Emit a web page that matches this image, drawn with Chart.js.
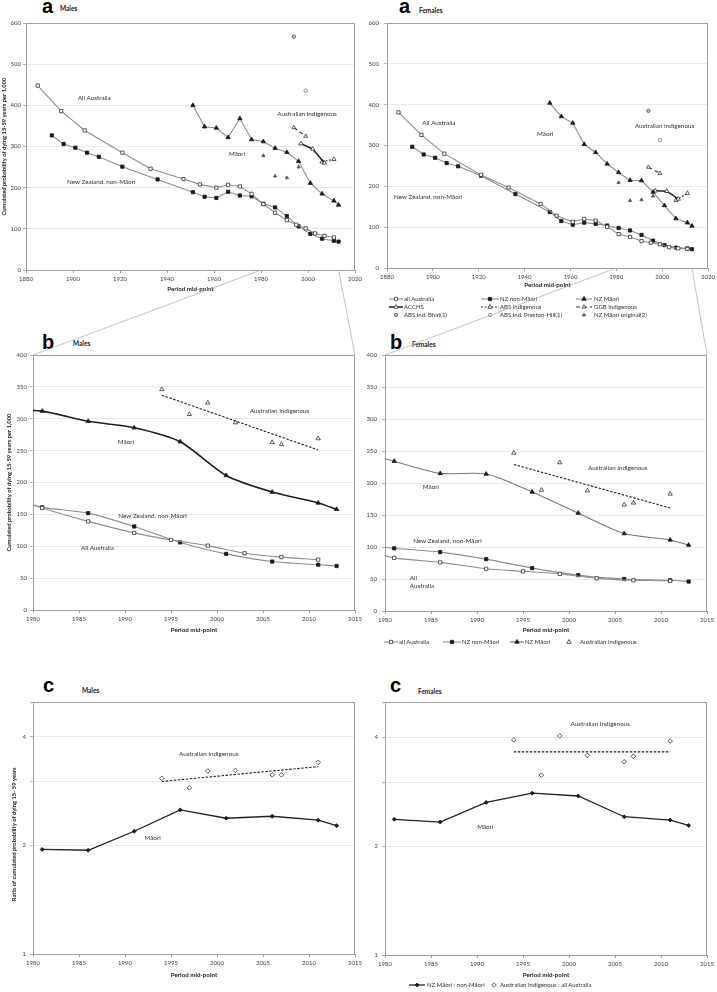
<!DOCTYPE html>
<html>
<head>
<meta charset="utf-8">
<script src="https://cdn.jsdelivr.net/npm/chart.js@4.4.1/dist/chart.umd.min.js"></script>
<style>
  body { margin: 0; background: #fff; }
  #page { position: relative; width: 717px; height: 992px; overflow: hidden; font-family: Lato, "Liberation Sans", sans-serif; color: #333; }
  #page canvas { position: absolute; }
  .tag { position: absolute; font: bold 20px/20px "Liberation Sans", Arial, sans-serif; color: #000; }
  .sex { position: absolute; font: bold 6.5px/8px Lato, sans-serif; color: #222; }
  .leg { position: absolute; font: 6px/8px Lato, sans-serif; color: #333; white-space: nowrap; }
</style>
</head>
<body>
<div id="page">
  <div class="tag" style="left:42px;top:-4px">a</div><div class="sex" style="left:60px;top:5px">Males</div>
  <div class="tag" style="left:399px;top:-4px">a</div><div class="sex" style="left:419px;top:7px">Females</div>
  <div class="tag" style="left:42px;top:332px">b</div><div class="sex" style="left:73px;top:340px">Males</div>
  <div class="tag" style="left:390px;top:332px">b</div><div class="sex" style="left:412px;top:341px">Females</div>
  <div class="tag" style="left:43px;top:675px">c</div><div class="sex" style="left:82px;top:687px">Males</div>
  <div class="tag" style="left:390px;top:675px">c</div><div class="sex" style="left:418px;top:688px">Females</div>
</div>
<script>
// ---- males, cumulated probability of dying 15-59 per 1,000 ----
const ausYears   = [1885,1895,1905,1921,1933,1947,1954,1961,1966,1971,1976,1981,1986,1991,1995,1999,2003,2007,2011];
const ausM       = [448,386,339,285,246,221,208,200,207,203,185,160,139,121,110,101,89,83,79];
const nzYears    = [1891,1896,1901,1906,1911,1921,1936,1951,1956,1961,1966,1971,1976,1981,1986,1991,1996,2001,2006,2011,2013];
const nzM        = [327,306,297,285,275,251,220,189,178,175,190,181,179,161,152,131,106,88,76,71,69];
const maoriYears = [1951,1956,1961,1966,1971,1976,1981,1986,1991,1996,2001,2006,2011,2013];
const maoriM     = [400,348,345,322,368,317,312,296,286,264,211,185,168,158];
const origYears  = [1981,1986,1991,1996];
const origM      = [278,228,224,250];
const ggbYears   = [1994,1999];
const ggbM       = [346,325];
const acchsYears = [1997,2002,2007];
const acchsM     = [307,294,260];
const absYears   = [2006,2011];
const absM       = [263,269];
const bhatYears  = [1994];
const bhatM      = [567];
const prestonYears = [1999];
const prestonM   = [436];
const trendYears = [1994,2011];
const trendM     = [337,251];

// ---- females ----
const ausF       = [381,326,280,228,197,157,128,113,120,116,101,83,76,66,62,58,51,48,47];
const nzF        = [297,278,270,257,249,226,181,137,115,106,111,108,104,98,92,81,67,56,50,48,46];
const maoriF     = [404,371,355,303,283,255,234,215,214,186,153,121,111,103];
const origF      = [209,165,167,176];
const ggbF       = [247,232];
const acchsF     = [189,188,169];
const absF       = [166,183];
const bhatF      = [385];
const prestonF   = [313];
const trendF     = [229,161];

// ---- ratios ----
const ratioYears = [1981,1986,1991,1996,2001,2006,2011,2013];
const ratioM     = [1.95,1.94,2.19,2.51,2.38,2.41,2.35,2.27];
const ratioF     = [2.37,2.33,2.64,2.80,2.75,2.41,2.36,2.28];
const indigRatioYears = [1994,1997,1999,2002,2006,2007,2011];
const indigRatioM = [3.07,2.89,3.22,3.23,3.14,3.14,3.40];
const indigRatioF = [3.93,3.14,4.03,3.56,3.42,3.54,3.90];
const ratioTrendM = [3.01,3.31];
const ratioTrendF = [3.64,3.64];

// ---- axis ticks ----
const ratioTicks = [1,2,3,4,5];
const ratioLabels = [1,2,4];

const page = document.getElementById('page');
const GREY = '#8e8e8e', AX = '#a0a0a0', TXT = '#444';
Chart.defaults.font.family = 'Lato, "Liberation Sans", sans-serif';
Chart.defaults.font.size = 6;
Chart.defaults.color = TXT;

const pts = (xs, ys) => xs.map((x, i) => ({x, y: ys[i]}));

function series(label, data, o) {
    return Object.assign({
        label, data, showLine: true,
        borderColor: GREY, borderWidth: 1.1,
        pointStyle: 'rect', pointRadius: 2.3, pointBorderWidth: 0.8,
        pointBorderColor: '#1a1a1a', pointBackgroundColor: '#1a1a1a'
    }, o);
}
const openSq = {pointBackgroundColor: '#fff', pointBorderColor: '#333'};
const tri = {pointStyle: 'triangle', pointRadius: 2.5};
const openTri = {pointStyle: 'triangle', pointRadius: 2.5, pointBackgroundColor: '#fff', pointBorderColor: '#333'};

// text labels inside the plot, placed in data units
const notePlugin = {
    id: 'notes',
    afterDatasetsDraw(chart, args, opts) {
        const {ctx, scales: {x, y}} = chart;
        ctx.save();
        ctx.font = '6.3px Lato, sans-serif';
        ctx.fillStyle = '#333';
        ctx.textBaseline = 'middle';
        (opts.items || []).forEach(n => {
            ctx.textAlign = n[3] || 'center';
            ctx.fillText(n[0], x.getPixelForValue(n[1]), y.getPixelForValue(n[2]));
        });
        ctx.restore();
    }
};
// grey frame round the plot area
const framePlugin = {
    id: 'frame',
    beforeDatasetsDraw(chart) {
        const {ctx, chartArea: a} = chart;
        ctx.save();
        ctx.strokeStyle = AX;
        ctx.lineWidth = 1;
        ctx.strokeRect(Math.round(a.left) + 0.5, Math.round(a.top) + 0.5, Math.round(a.width) - 1, Math.round(a.height));
        ctx.restore();
    }
};

function makePanel(box, plot, cfg) {
    const cv = document.createElement('canvas');
    cv.width = box.w; cv.height = box.h;
    cv.style.left = box.x + 'px'; cv.style.top = box.y + 'px';
    page.appendChild(cv);
    const yW = plot.l - box.x, xH = box.y + box.h - plot.b;
    const yScale = Object.assign({
        min: cfg.yMin, max: cfg.yMax,
        afterFit: s => { s.width = yW; },
        ticks: {stepSize: cfg.yStep, padding: cfg.yPad, color: TXT, font: {size: 6}},
        grid: {color: '#e4e4e4', lineWidth: 0.8, tickLength: 3, tickColor: AX},
        border: {color: AX},
        title: {display: !!cfg.yTitle, text: cfg.yTitle, color: '#222', font: {size: 5.8, weight: 'bold'}, padding: {top: cfg.yTitlePad || 0}}
    }, cfg.yExtra || {});
    return new Chart(cv, {
        type: 'scatter',
        data: {datasets: cfg.datasets},
        options: {
            responsive: false, animation: false, devicePixelRatio: 1,
            layout: {padding: {top: plot.t - box.y, right: box.x + box.w - plot.r, left: 0, bottom: 0}},
            elements: {line: {capBezierPoints: false}},
            plugins: {legend: {display: false}, tooltip: {enabled: false}, notes: {items: cfg.notes}},
            scales: {
                x: {
                    type: 'linear', min: cfg.xMin, max: cfg.xMax,
                    afterFit: s => { s.height = xH; },
                    ticks: {stepSize: cfg.xStep, padding: 2, color: TXT, font: {size: 6}, maxRotation: 0, autoSkip: false, callback: v => String(v)},
                    grid: {drawOnChartArea: false, tickLength: 3, color: AX},
                    border: {color: AX},
                    title: {display: true, text: 'Period mid-point', color: '#222', font: {size: 6.2, weight: 'bold'}, padding: 0}
                },
                y: yScale
            }
        },
        plugins: [framePlugin, notePlugin]
    });
}

function panelA(aus, nz, maori, orig, ggb, acchs, abs, bhat, preston) {
    return [
        series('all Australia', pts(ausYears, aus), openSq),
        series('NZ non-Māori', pts(nzYears, nz)),
        series('NZ Māori', pts(maoriYears, maori), tri),
        series('ACCHS', pts(acchsYears, acchs), Object.assign({borderColor: '#222', borderWidth: 1.5}, openTri)),
        series('ABS Indigenous', pts(absYears, abs), Object.assign({borderColor: '#333', borderDash: [2, 1.5]}, openTri)),
        series('GGB Indigenous', pts(ggbYears, ggb), Object.assign({borderColor: '#333', borderDash: [4, 3]}, openTri, {pointRadius: 2.2})),
        series('ABS Ind. Bhat(1)', pts(bhatYears, bhat), {showLine: false, pointStyle: 'circle', pointRadius: 1.7, pointBackgroundColor: '#bbb', pointBorderColor: '#555'}),
        series('ABS Ind. Preston-Hill(1)', pts(prestonYears, preston), {showLine: false, pointStyle: 'circle', pointRadius: 1.7, pointBackgroundColor: '#fff', pointBorderColor: '#777'}),
        series('NZ Māori original(2)', pts(origYears, orig), {showLine: false, pointStyle: 'triangle', pointRadius: 1.9, pointBackgroundColor: '#555', pointBorderColor: '#555'})
    ];
}

function panelB(aus, nz, maori, ggb, acchs, abs, trend, maoriLine) {
    const indigYears = ggbYears.concat(acchsYears, absYears);
    const indig = ggb.concat(acchs, abs);
    return [
        series('all Australia', pts(ausYears, aus), Object.assign({tension: 0.25, pointRadius: 2.3}, openSq)),
        series('NZ non-Māori', pts(nzYears, nz), {tension: 0.25, pointRadius: 2.3}),
        series('NZ Māori', pts(maoriYears, maori), Object.assign({tension: 0.25}, tri, maoriLine)),
        series('Australian Indigenous', pts(indigYears, indig), Object.assign({showLine: false}, openTri)),
        series('trend', pts(trendYears, trend), {borderColor: '#222', borderWidth: 1.1, borderDash: [2.5, 1.5], pointRadius: 0})
    ];
}

function panelC(ratio, indig, trend) {
    return [
        series('NZ Māori : non-Māori', pts(ratioYears, ratio), {borderColor: '#222', borderWidth: 1.3, pointStyle: 'rectRot', pointRadius: 2}),
        series('Australian Indigenous : all Australia', pts(indigRatioYears, indig), {showLine: false, pointStyle: 'rectRot', pointRadius: 2.3, pointBackgroundColor: '#fff', pointBorderColor: '#333'}),
        series('trend', pts(trendYears, trend), {borderColor: '#222', borderWidth: 1.1, borderDash: [2.5, 1.5], pointRadius: 0})
    ];
}

const logY = {
    type: 'logarithmic',
    afterBuildTicks: s => { s.ticks = ratioTicks.map(v => ({value: v})); },
    ticks: {padding: 4, color: TXT, font: {size: 6}, callback: v => ratioLabels.includes(v) ? String(v) : ''}
};
const Y_A = 'Cumulated probability of dying 15-59 years per 1,000';
const Y_C = 'Ratio of cumulated probability of dying 15- 59 years' + '\u00a0'.repeat(9);

const aM = makePanel({x: 0, y: 0, w: 366, h: 293}, {l: 26, t: 23, r: 355, b: 270}, {
    xMin: 1880, xMax: 2020, xStep: 20, yMin: 0, yMax: 600, yStep: 100, yPad: 2, yTitle: Y_A, yTitlePad: 1,
    datasets: panelA(ausM, nzM, maoriM, origM, ggbM, acchsM, absM, bhatM, prestonM),
    notes: [['All Australia', 1909, 417], ['Australian Indigenous', 1999.6, 379], ['Māori', 1969.8, 282], ['New Zealand, non-Māori', 1912, 214]]
});
const aF = makePanel({x: 362, y: 0, w: 355, h: 289}, {l: 387, t: 23, r: 709, b: 268}, {
    xMin: 1880, xMax: 2020, xStep: 20, yMin: 0, yMax: 600, yStep: 100, yPad: 5,
    datasets: panelA(ausF, nzF, maoriF, origF, ggbF, acchsF, absF, bhatF, prestonF),
    notes: [['All Australia', 1902.6, 356], ['Māori', 1949, 329], ['Australian Indigenous', 2001, 349], ['New Zealand, non-Māori', 1898, 173]]
});
const bM = makePanel({x: 0, y: 340, w: 366, h: 294}, {l: 33, t: 355, r: 355, b: 610}, {
    xMin: 1980, xMax: 2015, xStep: 5, yMin: 0, yMax: 400, yStep: 50, yPad: 3, yTitle: Y_A, yTitlePad: 6,
    datasets: panelB(ausM, nzM, maoriM, ggbM, acchsM, absM, trendM, {borderColor: '#1e1e1e', borderWidth: 1.6}),
    notes: [['Australian Indigenous', 2006.8, 312], ['Māori', 1990.1, 264], ['New Zealand, non-Māori', 1993, 148], ['All Australia', 1987, 98]]
});
const bF = makePanel({x: 360, y: 340, w: 357, h: 294}, {l: 385, t: 355, r: 707, b: 611}, {
    xMin: 1980, xMax: 2015, xStep: 5, yMin: 0, yMax: 400, yStep: 50, yPad: 5,
    datasets: panelB(ausF, nzF, maoriF, ggbF, acchsF, absF, trendF, {borderColor: '#777', borderWidth: 1.1}),
    notes: [['Australian Indigenous', 2005.3, 223], ['Māori', 1985, 194], ['New Zealand, non-Māori', 1986.8, 109], ['All', 1982.7, 52, 'left'], ['Australia', 1982.7, 39, 'left']]
});
const cM = makePanel({x: 0, y: 690, w: 366, h: 289}, {l: 33, t: 702, r: 355, b: 954}, {
    xMin: 1980, xMax: 2015, xStep: 5, yMin: 1, yMax: 5, yPad: 4, yTitle: Y_C, yTitlePad: 11, yExtra: logY,
    datasets: panelC(ratioM, indigRatioM, ratioTrendM),
    notes: [['Australian Indigenous', 1999.1, 3.59], ['Māori', 1993, 2.10]]
});
const cF = makePanel({x: 360, y: 690, w: 357, h: 289}, {l: 385, t: 702, r: 707, b: 955}, {
    xMin: 1980, xMax: 2015, xStep: 5, yMin: 1, yMax: 5, yPad: 5, yExtra: logY,
    datasets: panelC(ratioF, indigRatioF, ratioTrendF),
    notes: [['Australian Indigenous', 2003.4, 4.35], ['Māori', 1990.9, 2.26]]
});

// small legend samples drawn from each dataset's own style
function marker(ctx, style, x, y, r, fill, stroke, lw) {
    ctx.beginPath();
    if (style === 'rect') {
        const s = r * Math.SQRT1_2;
        ctx.rect(x - s, y - s, 2 * s, 2 * s);
    } else if (style === 'triangle') {
        ctx.moveTo(x, y - r); ctx.lineTo(x + 0.866 * r, y + 0.5 * r); ctx.lineTo(x - 0.866 * r, y + 0.5 * r); ctx.closePath();
    } else if (style === 'rectRot') {
        ctx.moveTo(x, y - r); ctx.lineTo(x + r, y); ctx.lineTo(x, y + r); ctx.lineTo(x - r, y); ctx.closePath();
    } else {
        ctx.arc(x, y, r, 0, Math.PI * 2);
    }
    ctx.fillStyle = fill; ctx.fill();
    ctx.strokeStyle = stroke; ctx.lineWidth = lw || 0.8; ctx.stroke();
}
function legend(chart, items) {
    items.forEach(([i, ix, iw, tx, cy]) => {
        const ds = chart.data.datasets[i];
        const cv = document.createElement('canvas');
        cv.width = iw; cv.height = 8;
        cv.style.left = ix + 'px'; cv.style.top = (cy - 4) + 'px';
        const ctx = cv.getContext('2d');
        if (ds.showLine) {
            ctx.strokeStyle = ds.borderColor; ctx.lineWidth = ds.borderWidth;
            ctx.setLineDash(ds.borderDash || []);
            ctx.beginPath(); ctx.moveTo(0, 4); ctx.lineTo(iw, 4); ctx.stroke();
            ctx.setLineDash([]);
        }
        if (ds.pointRadius > 0) marker(ctx, ds.pointStyle, iw / 2, 4, ds.pointRadius, ds.pointBackgroundColor, ds.pointBorderColor, ds.pointBorderWidth);
        page.appendChild(cv);
        const t = document.createElement('div');
        t.className = 'leg'; t.textContent = ds.label;
        t.style.left = tx + 'px'; t.style.top = (cy - 4) + 'px';
        page.appendChild(t);
    });
}
const colIcon = [389, 481, 576], colW = [14, 18, 16], colText = [404, 500, 594], rowY = [299, 307, 315];
legend(aF, aF.data.datasets.map((d, i) => [i, colIcon[i % 3], colW[i % 3], colText[i % 3], rowY[Math.floor(i / 3)]]));
legend(bF, [[0, 384, 14, 399, 642], [1, 443, 18, 462, 642], [2, 510, 14, 525, 642], [3, 565, 8, 580, 642]]);
legend(cF, [[0, 409, 16, 427, 985], [1, 490, 8, 500, 985]]);

// grey guide lines from the 1980-2013 stretch of panel a to the edges of panel b
const over = document.createElement('canvas');
over.width = 717; over.height = 992;
over.style.left = '0px'; over.style.top = '0px';
page.appendChild(over);
const g = over.getContext('2d');
g.strokeStyle = '#b4b4b4'; g.lineWidth = 0.8;
function at(chart, px, py) {
    return [parseFloat(chart.canvas.style.left) + px, parseFloat(chart.canvas.style.top) + py];
}
[[aM, bM], [aF, bF]].forEach(([a, b]) => {
    const y0 = a.scales.y.getPixelForValue(0);
    const p1 = at(a, a.scales.x.getPixelForValue(1980), y0);
    const p2 = at(a, a.scales.x.getPixelForValue(2013), y0);
    const q1 = at(b, b.chartArea.left, b.chartArea.top);
    const q2 = at(b, b.chartArea.right, b.chartArea.top);
    g.beginPath(); g.moveTo(p1[0], p1[1]); g.lineTo(q1[0], q1[1]);
    g.moveTo(p2[0], p2[1]); g.lineTo(q2[0], q2[1]); g.stroke();
});
</script>
</body>
</html>
